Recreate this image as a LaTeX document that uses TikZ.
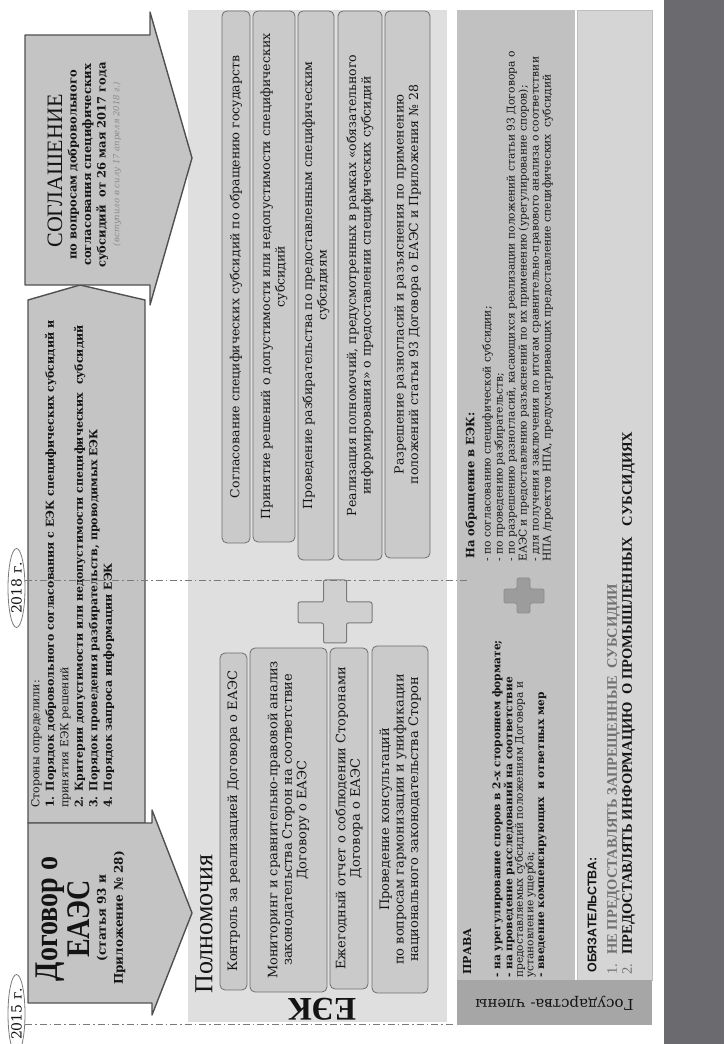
\documentclass[tikz,border=0pt]{standalone}
\usepackage{fontspec}
\setmainfont{DejaVu Serif}
\newfontfamily\titlefont[FakeStretch=0.85]{Liberation Serif}
\newfontfamily\plainserif{Liberation Serif}
\newfontfamily\sansfont{Liberation Sans}
\usetikzlibrary{shapes.geometric, positioning}

\definecolor{arrowfill}{HTML}{C4C4C4}
\definecolor{arrowedge}{HTML}{505050}
\definecolor{eekfill}{HTML}{DFDFDF}
\definecolor{boxfill}{HTML}{CACACA}
\definecolor{boxedge}{HTML}{6E6E6E}
\definecolor{plusfill}{HTML}{D0D0D0}
\definecolor{smallplus}{HTML}{9C9C9C}
\definecolor{rightsfill}{HTML}{C1C1C1}
\definecolor{dutyfill}{HTML}{D5D5D5}
\definecolor{dutyedge}{HTML}{BDBDBD}
\definecolor{statefill}{HTML}{A6A6A6}
\definecolor{darkband}{HTML}{6B6B6F}
\definecolor{lineclr}{HTML}{7A7A7A}
\definecolor{textclr}{HTML}{141414}
\definecolor{dimtext}{HTML}{707070}
\definecolor{notegray}{HTML}{8A8A8A}

\tikzset{
  arrowshape/.style={fill=arrowfill, draw=arrowedge, line width=1.4pt, line join=round},
  taskbox/.style={draw=boxedge, fill=boxfill, rounded corners=5pt, line width=0.8pt, inner sep=0pt, align=center, text=textclr},
  leftbox/.style={taskbox, font=\fontsize{13}{14.5}\selectfont},
  rightbox/.style={taskbox, font=\fontsize{12.5}{14.5}\selectfont},
  yearmark/.style={ellipse, draw=lineclr, fill=white, line width=0.8pt, minimum width=79pt, minimum height=17pt, inner sep=0pt, font=\fontsize{14}{14}\selectfont, text=textclr},
  timeline/.style={draw=lineclr, line width=1pt, dash pattern=on 7pt off 3pt on 1.5pt off 3pt},
  bigplus/.style={fill=plusfill, draw=lineclr, line width=1pt, rounded corners=2pt},
  listtext/.style={anchor=north west, align=left, inner sep=0pt, text=textclr},
}

\begin{document}
\begin{tikzpicture}[x=1pt, y=-1pt, rotate=90, every node/.append style={transform shape}]
\useasboundingbox (0,0) rectangle (1044,724);
\fill[white] (0,0) rectangle (1044,724);
\fill[darkband] (0,664) rectangle (1044,724);

% ЕЭК
\fill[eekfill] (22,188) rectangle (1034,447);
\node[anchor=west, font=\plainserif\fontsize{26}{26}\selectfont, text=textclr] (powers) at (47,204) {Полномочия};
\node[rotate=90, font=\plainserif\bfseries\fontsize{33}{33}\selectfont, text=textclr] (eek) at (35,322) {ЕЭК};

\node[leftbox, minimum width=337pt, minimum height=27pt] (control) at (222.5,233.5) {Контроль за реализацией Договора о ЕАЭС};
\node[leftbox, minimum width=344pt, minimum height=77pt] (monitor) at (224,288.5) {Мониторинг и сравнительно-правовой анализ\\законодательства Сторон на соответствие\\Договору о ЕАЭС};
\node[leftbox, minimum width=341pt, minimum height=38pt] (report) at (225.5,349) {Ежегодный отчет о соблюдении Сторонами\\Договора о ЕАЭС};
\node[leftbox, minimum width=347pt, minimum height=56pt] (consult) at (224.5,400) {Проведение консультаций\\по вопросам гармонизации и унификации\\национального законодательства Сторон};

\draw[bigplus] (421,298) -- (442,298) -- (442,323.5) -- (464,323.5) -- (464,346.5) -- (442,346.5) -- (442,372) -- (421,372) -- (421,346.5) -- (401,346.5) -- (401,323.5) -- (421,323.5) -- cycle;

\node[rightbox, minimum width=532pt, minimum height=28pt] (approve) at (767,236) {Согласование специфических субсидий по обращению государств};
\node[rightbox, minimum width=531pt, minimum height=42pt] (decide) at (767.5,274) {Принятие решений о допустимости или недопустимости специфических\\субсидий};
\node[rightbox, minimum width=549pt, minimum height=36pt] (inquiry) at (758.5,316) {Проведение разбирательства по предоставленным специфическим\\субсидиям};
\node[rightbox, minimum width=549pt, minimum height=44pt] (inform) at (758.5,360) {Реализация полномочий, предусмотренных в рамках «обязательного\\информирования» о предоставлении специфических субсидий};
\node[rightbox, minimum width=547pt, minimum height=45pt] (resolve) at (759.5,407.5) {Разрешение разногласий и разъяснения по применению\\положений статьи 93 Договора о ЕАЭС и Приложения № 28};

% Государства-члены
\fill[rightsfill] (64,457) rectangle (1034,575);
\filldraw[fill=dutyfill, draw=dutyedge] (64,577) rectangle (1034,652);
\fill[statefill] (19,457) rectangle (64,652);
\node[rotate=90, font=\fontsize{15}{15}\selectfont, text=textclr] (states) at (41,554.5) {Государства- члены};

\node[anchor=west, font=\bfseries\fontsize{11}{11}\selectfont, text=textclr] (rightsHead) at (66,467) {ПРАВА};
\node[listtext, font=\fontsize{10.6}{10.6}\selectfont] (rightsList) at (66,492) {\textbf{- на урегулирование споров в 2-х стороннем формате;}\\\textbf{- на проведение расследований на соответствие}\\предоставляемых субсидий положениям Договора и\\установление ущерба;\\\textbf{- введение компенсирующих~ и ответных мер}};

\draw[fill=smallplus, draw=smallplus!90!black, line width=0.8pt, rounded corners=1.5pt] (441,504) -- (455,504) -- (455,517) -- (466,517) -- (466,530) -- (455,530) -- (455,544) -- (441,544) -- (441,530) -- (431,530) -- (431,517) -- (441,517) -- cycle;

\node[anchor=west, font=\bfseries\fontsize{11.5}{11.5}\selectfont, text=textclr] (appealHead) at (482,471) {На обращение в ЕЭК:};
\node[listtext, font=\fontsize{10.7}{12}\selectfont] (appealList) at (482,482) {- по согласованию специфической субсидии;\\- по проведению разбирательств;\\- по разрешению разногласий, касающихся реализации положений статьи 93 Договора о\\ЕАЭС и предоставлению разъяснений по их применению (урегулирование споров);\\- для получения заключения по итогам сравнительно-правового анализа о соответствии\\НПА /проектов НПА, предусматривающих предоставление специфических~ субсидий};

\node[anchor=west, font=\sansfont\bfseries\fontsize{12.5}{12.5}\selectfont, text=textclr] (dutyHead) at (68,592) {ОБЯЗАТЕЛЬСТВА:};
\node[anchor=west, font=\plainserif\fontsize{14.5}{14.5}\selectfont, text=dimtext] (dutyOne) at (66,613.5) {1.\hspace{9pt}\textbf{НЕ ПРЕДОСТАВЛЯТЬ ЗАПРЕЩЕННЫЕ~ СУБСИДИИ}};
\node[anchor=west, font=\plainserif\fontsize{14.5}{14.5}\selectfont, text=dimtext] (dutyTwo) at (66,628.5) {2.\hspace{9pt}\textcolor{textclr}{\textbf{ПРЕДОСТАВЛЯТЬ ИНФОРМАЦИЮ~ О ПРОМЫШЛЕННЫХ~~ СУБСИДИЯХ}}};

% documents
\draw[arrowshape] (221,28) -- (744,28) -- (759,80) -- (744,145) -- (221,145) -- cycle;
\draw[arrowshape] (41,28) -- (221,28) -- (221,152) -- (234,152) -- (131,192) -- (29,152) -- (41,152) -- cycle;
\draw[arrowshape] (759,25) -- (1009,25) -- (1009,150) -- (1032,150) -- (886,192) -- (739,150) -- (759,150) -- cycle;

\node[font=\titlefont\bfseries\fontsize{33}{32}\selectfont, align=center, text=textclr] (treatyTitle) at (125,63) {Договор о\\ЕАЭС};
\node[font=\bfseries\fontsize{12}{17}\selectfont, align=center, text=textclr] (treatySub) at (126,111) {(статья 93 и\\Приложение № 28)};

\node[listtext, font=\fontsize{11}{14.5}\selectfont] (partiesText) at (236,31) {Стороны определили:\\\textbf{1. Порядок добровольного согласования с ЕЭК специфических субсидий и}\\принятия ЕЭК решений\\\textbf{2. Критерии допустимости или недопустимости специфических~ субсидий}\\\textbf{3. Порядок проведения разбирательств, проводимых ЕЭК}\\\textbf{4. Порядок запроса информации ЕЭК}};

\node[font=\plainserif\fontsize{22}{22}\selectfont, text=textclr] (agreeTitle) at (873,55) {СОГЛАШЕНИЕ};
\node[align=center, font=\bfseries\fontsize{11.5}{14.5}\selectfont, text=textclr] (agreeText) at (879,88) {по вопросам добровольного\\согласования специфических\\субсидий~ от 26 мая 2017 года};
\node[font=\itshape\fontsize{8.5}{9}\selectfont, text=notegray] (agreeNote) at (880,117) {(вступило в силу 17 апреля 2018 г.)};

% timeline
\coordinate (line15top) at (19,25);
\coordinate (line15end) at (19,455);
\coordinate (line18top) at (463,25);
\coordinate (line18end) at (463,470);
\draw[timeline] (line15top) -- (line15end);
\draw[timeline] (line18top) -- (line18end);
\node[yearmark] (year15) at (30,16.5) {2015 г.};
\node[yearmark] (year18) at (456,16.5) {2018 г.};
\end{tikzpicture}
\end{document}
